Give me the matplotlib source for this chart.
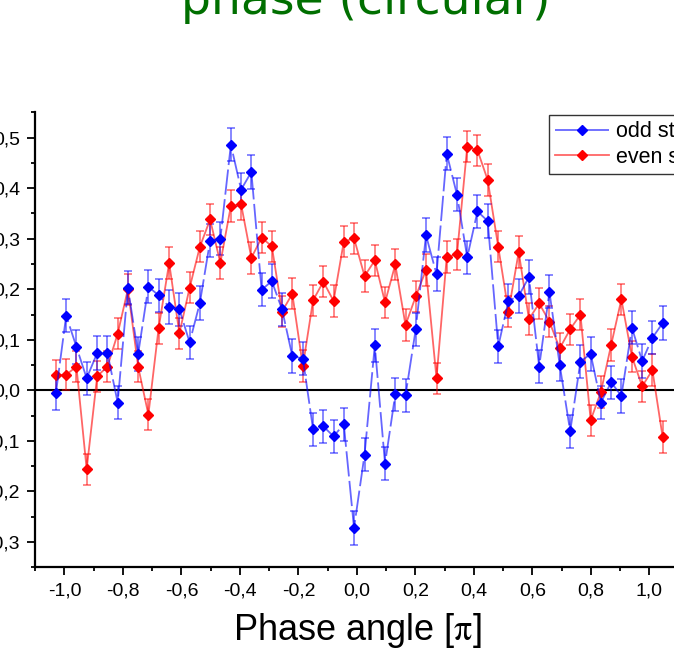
import matplotlib
matplotlib.use("Agg")
import matplotlib.pyplot as plt
from matplotlib.ticker import MultipleLocator, FuncFormatter

plt.rcParams['font.family'] = ['Liberation Sans', 'DejaVu Sans']
plt.rcParams['mathtext.fontset'] = 'stix'

# phase grid (units of pi)
phase = [-1.029, -0.994, -0.959, -0.924, -0.888, -0.853, -0.818, -0.783, -0.748, -0.713,
         -0.678, -0.642, -0.607, -0.572, -0.537, -0.502, -0.467, -0.431, -0.396, -0.361,
         -0.326, -0.291, -0.256, -0.221, -0.185, -0.150, -0.115, -0.080, -0.045, -0.010,
         0.026, 0.061, 0.096, 0.131, 0.166, 0.201, 0.236, 0.272, 0.307, 0.342,
         0.377, 0.412, 0.447, 0.483, 0.518, 0.553, 0.588, 0.623, 0.658, 0.693,
         0.729, 0.764, 0.799, 0.834, 0.869, 0.904, 0.940, 0.975, 1.010, 1.045]

odd_vals = [-0.005, 0.148, 0.086, 0.024, 0.074, 0.074, -0.024, 0.203, 0.072, 0.205,
            0.188, 0.165, 0.160, 0.095, 0.173, 0.296, 0.300, 0.486, 0.397, 0.432,
            0.199, 0.216, 0.160, 0.068, 0.063, -0.077, -0.071, -0.091, -0.067, -0.272,
            -0.127, 0.089, -0.145, -0.008, -0.010, 0.121, 0.307, 0.230, 0.468, 0.387,
            0.263, 0.354, 0.335, 0.087, 0.177, 0.187, 0.224, 0.047, 0.195, 0.051,
            -0.081, 0.057, 0.072, -0.024, 0.016, -0.011, 0.124, 0.058, 0.104, 0.133]

even_vals = [0.030, 0.031, 0.047, -0.156, 0.028, 0.047, 0.112, 0.200, 0.047, -0.048,
             0.123, 0.252, 0.113, 0.203, 0.284, 0.338, 0.252, 0.365, 0.368, 0.262,
             0.302, 0.285, 0.156, 0.191, 0.048, 0.178, 0.215, 0.177, 0.294, 0.301,
             0.226, 0.257, 0.174, 0.249, 0.129, 0.186, 0.238, 0.024, 0.264, 0.269,
             0.482, 0.475, 0.416, 0.284, 0.156, 0.274, 0.141, 0.172, 0.136, 0.083,
             0.121, 0.150, -0.059, -0.003, 0.090, 0.180, 0.067, 0.008, 0.040, -0.092]

odd_err = 0.033
even_err = 0.031

fig = plt.figure(figsize=(6.74, 6.63), dpi=100)
ax = fig.add_axes([0.0522, 0.1443, 0.9548, 0.6863])

# error bars
ax.errorbar(phase, odd_vals, yerr=odd_err, fmt='none', ecolor=(0, 0, 1, 0.55),
            elinewidth=1.2, capsize=3.2, capthick=1.2, zorder=3)
ax.errorbar(phase, even_vals, yerr=even_err, fmt='none', ecolor=(1, 0, 0, 0.55),
            elinewidth=1.2, capsize=3.2, capthick=1.2, zorder=2)

# lines + markers
ax.plot(phase, odd_vals, color=(0, 0, 1, 0.6), lw=1.3, linestyle=(0, (14, 2.5)),
        marker='D', ms=5, mfc='blue', mec='blue', label='odd steps', zorder=4)
ax.plot(phase, even_vals, color=(1, 0, 0, 0.6), lw=1.3,
        marker='D', ms=5, mfc='red', mec='red', label='even steps', zorder=3)

ax.axhline(0, color='black', lw=1.5, zorder=1)

ax.set_xlim(-1.1, 1.1)
ax.set_ylim(-0.35, 0.55)

ax.xaxis.set_major_locator(MultipleLocator(0.2))
ax.xaxis.set_minor_locator(MultipleLocator(0.1))
ax.yaxis.set_major_locator(MultipleLocator(0.1))
ax.yaxis.set_minor_locator(MultipleLocator(0.05))
comma = FuncFormatter(lambda v, p: f"{v:.1f}".replace('-0.0', '0.0').replace('.', ','))
ax.xaxis.set_major_formatter(comma)
ax.yaxis.set_major_formatter(comma)

ax.tick_params(which='major', direction='out', length=6, width=1.3, labelsize=14, pad=5)
ax.tick_params(which='minor', direction='out', length=3, width=1.3)

ax.spines['top'].set_visible(False)
ax.spines['right'].set_visible(False)
ax.spines['left'].set_linewidth(1.6)
ax.spines['bottom'].set_linewidth(1.6)

ax.set_xlabel(r'Phase angle [$\mathrm{\pi}$]', fontsize=26, labelpad=8)

leg = ax.legend(loc='upper left', bbox_to_anchor=(549 / 674, 1 - 115 / 663),
                bbox_transform=fig.transFigure, fontsize=15.5, frameon=True,
                fancybox=False, edgecolor='#333333', framealpha=1,
                handlelength=2.5, handletextpad=0.3, labelspacing=0.2,
                borderpad=0.3, borderaxespad=0)
leg.get_frame().set_linewidth(1.0)

fig.text(0.542, 1 - 14 / 663, 'phase (circular)', color='#006f00', fontsize=34,
         ha='center', va='baseline', family='DejaVu Sans')

fig.savefig('out.png', dpi=100)
